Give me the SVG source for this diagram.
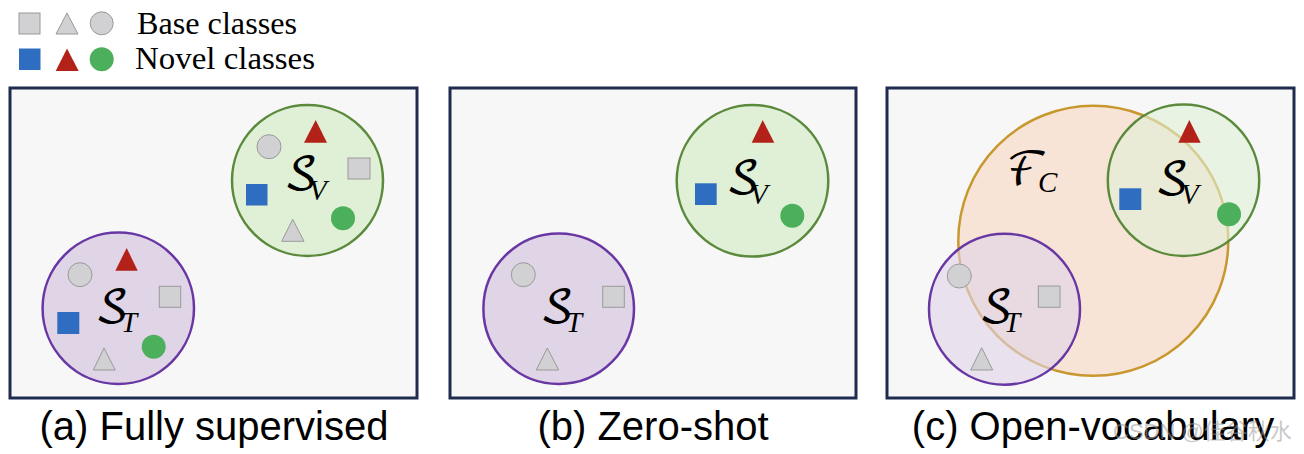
<svg xmlns="http://www.w3.org/2000/svg" width="1304" height="454" viewBox="0 0 1304 454">
<style>
.panel{fill:#f7f7f7;stroke:#1f2c4f;stroke-width:3}
.sv{fill:#dff0d6;stroke:#5b8a3c;stroke-width:2.5}
.st{fill:#e0d4e7;stroke:#6937a3;stroke-width:2.5}
.svc{fill:#dff0d6;fill-opacity:0.6;stroke:#5b8a3c;stroke-width:2.5}
.stc{fill:#e0d4e7;fill-opacity:0.6;stroke:#6937a3;stroke-width:2.5}
.fc{fill:#f8e4d6;stroke:#c8982f;stroke-width:2.5}
.base{fill:#d1d0d2;stroke:#9a9a9a;stroke-width:1}
.blue{fill:#2e6dbf}
.red{fill:#b32219}
.green{fill:#4caf5b}
.legend{font-family:"Liberation Serif","Times New Roman",serif;font-size:31px;fill:#000}
.cap{font-family:"Liberation Sans",Arial,sans-serif;font-size:40px;fill:#000;text-anchor:middle}
.cal{font-family:"DejaVu Math TeX Gyre","Noto Sans Math","DejaVu Serif",serif;font-size:44px;fill:#000}
.sub{font-family:"Liberation Serif","Times New Roman",serif;font-style:italic;font-size:29px;fill:#000}
.wm{font-family:"Liberation Sans","Noto Sans CJK SC",sans-serif;font-size:22px;fill:#9a9a9a;fill-opacity:0.55}
</style>
<g id="legend">
<rect class="base" x="19" y="13" width="21" height="21"/>
<polygon class="base" points="67,13 56,34 78,34"/>
<circle class="base" cx="101.7" cy="23.3" r="11.5"/>
<text class="legend" x="137" y="34" textLength="160" lengthAdjust="spacingAndGlyphs">Base classes</text>
<rect class="blue" x="19" y="48.5" width="21.5" height="21.5"/>
<polygon class="red" points="67,48.5 55.7,71 78.7,71"/>
<circle class="green" cx="101.7" cy="59.3" r="12"/>
<text class="legend" x="135" y="69" textLength="180" lengthAdjust="spacingAndGlyphs">Novel classes</text>
</g>
<g id="panel-a">
<rect class="panel" x="10" y="88" width="407" height="310"/>
<g id="a-SV">
<circle class="sv" cx="307.5" cy="180.5" r="75.5"/>
<circle class="base" cx="269" cy="146.7" r="12"/>
<polygon class="red" points="315.7,120 304,142.7 327,142.7"/>
<rect class="base" x="348" y="158" width="22" height="21"/>
<rect class="blue" x="246" y="184" width="21.5" height="21.5"/>
<circle class="green" cx="343" cy="218.3" r="12"/>
<polygon class="base" points="292.7,219.3 281.7,241.3 304,241.3"/>
<text class="cal" x="284" y="190">𝒮<tspan class="sub" x="309" y="200">V</tspan></text>
</g>
<g id="a-ST">
<circle class="st" cx="118.3" cy="308.3" r="75.7"/>
<circle class="base" cx="80" cy="274.7" r="12"/>
<polygon class="red" points="126.7,248 115.3,270.7 137.7,270.7"/>
<rect class="base" x="159.3" y="286.3" width="21.4" height="21"/>
<rect class="blue" x="57.3" y="312" width="22" height="22"/>
<circle class="green" cx="153.7" cy="346.7" r="12"/>
<polygon class="base" points="104,348 93.3,370 115.3,370"/>
<text class="cal" x="95" y="323">𝒮<tspan class="sub" x="121" y="332">T</tspan></text>
</g>
<text class="cap" x="214" y="440">(a) Fully supervised</text>
</g>
<g id="panel-b">
<rect class="panel" x="450" y="88" width="406" height="310"/>
<g id="b-SV">
<circle class="sv" cx="752.5" cy="180.8" r="75.8"/>
<polygon class="red" points="762.7,120 751.7,142.7 774.3,142.7"/>
<rect class="blue" x="695" y="183.3" width="21.7" height="21.7"/>
<circle class="green" cx="792.3" cy="215.7" r="12"/>
<text class="cal" x="726" y="194">𝒮<tspan class="sub" x="750" y="204">V</tspan></text>
</g>
<g id="b-ST">
<circle class="st" cx="558.7" cy="308.7" r="75.3"/>
<circle class="base" cx="523.3" cy="274.7" r="12"/>
<rect class="base" x="602.7" y="286.3" width="21.6" height="21"/>
<polygon class="base" points="547.3,348 536.3,370 558.7,370"/>
<text class="cal" x="540" y="323">𝒮<tspan class="sub" x="566" y="332">T</tspan></text>
</g>
<text class="cap" x="653" y="440">(b) Zero-shot</text>
</g>
<g id="panel-c">
<rect class="panel" x="887" y="88" width="407" height="310"/>
<g id="c-FC">
<circle class="fc" cx="1093.3" cy="240.8" r="135"/>
<text class="cal" x="1006" y="185" style="font-size:46px">ℱ<tspan class="sub" x="1038" y="192">C</tspan></text>
</g>
<g id="c-SV">
<circle class="svc" cx="1183.5" cy="180.3" r="75.7"/>
<polygon class="red" points="1189.3,120 1178.3,142.7 1200.7,142.7"/>
<rect class="blue" x="1119.3" y="188.3" width="22" height="21.7"/>
<circle class="green" cx="1229" cy="214.3" r="12"/>
<text class="cal" x="1155" y="195">𝒮<tspan class="sub" x="1181" y="204">V</tspan></text>
</g>
<g id="c-ST">
<circle class="stc" cx="1004.5" cy="309.2" r="75.5"/>
<circle class="base" cx="959.3" cy="276" r="12"/>
<rect class="base" x="1038.3" y="286" width="21.7" height="21.3"/>
<polygon class="base" points="981.7,347.7 970.7,370 992.7,370"/>
<text class="cal" x="979" y="323">𝒮<tspan class="sub" x="1004" y="332">T</tspan></text>
</g>
<text class="cap" x="1093" y="440">(c) Open-vocabulary</text>
</g>
<g id="connectors"/>
<text class="wm" x="1113" y="439">CSDN @佳谷秋水</text>
</svg>
